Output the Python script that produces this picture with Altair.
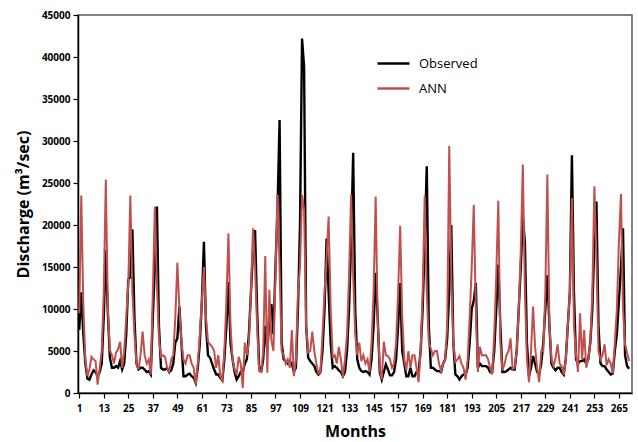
import altair as alt
import pandas as pd

months = list(range(1, 271))

observed = [
    7500, 12000, 7000, 3500, 1700, 1600, 2200, 2700, 2500, 2000, 2500, 3500,
    9000, 17000, 9500, 4200, 3000, 3000, 3200, 3000, 3800, 2800, 3500, 7000,
    13500, 13800, 19500, 9000, 3500, 2800, 3000, 3000, 2800, 2500, 2600, 2200,
    9000, 15000, 22200, 8000, 3000, 2800, 2800, 3000, 2500, 2700, 3500, 6000,
    6500, 10300, 6000, 2000, 2000, 2200, 2300, 2000, 1800, 1200, 3000, 6000,
    11000, 18000, 8000, 4500, 4200, 3500, 2800, 2200, 2200, 1800, 1500, 4000,
    8000, 13200, 6000, 4000, 2500, 1600, 2000, 2500, 2500, 3500, 4000, 7000,
    12000, 17000, 19400, 10000, 3200, 2500, 4000, 8000, 5000, 9000, 10600, 7000,
    15000, 22000, 32500, 6000, 4000, 3800, 3500, 3800, 3500, 2500, 3000, 10000,
    20000, 42200, 38800, 8000, 4200, 3800, 3500, 3200, 2500, 2200, 2500, 5000,
    10000, 18400, 12000, 6000, 3000, 3200, 3000, 2700, 2500, 2000, 2500, 5000,
    10000, 18000, 28600, 10000, 4000, 3000, 2600, 2500, 2600, 2500, 2200, 4000,
    8000, 14300, 9000, 2500, 1600, 2500, 3400, 2800, 2100, 2100, 2500, 4000,
    8000, 13100, 5000, 3500, 2000, 2000, 3000, 2000, 2000, 2500, 2500, 5000,
    10000, 18000, 27000, 8000, 3000, 3000, 2800, 2600, 2600, 2500, 3500, 4000,
    6500, 12000, 20000, 6000, 2200, 2000, 1600, 2000, 2200, 2200, 3000, 6000,
    10000, 11000, 13100, 3000, 3500, 3200, 3200, 3200, 3000, 2500, 2500, 5000,
    10000, 15300, 8000, 2500, 2500, 2600, 2800, 3000, 2800, 2800, 5000, 10000,
    15000, 21000, 17900, 6000, 2000, 3000, 4400, 3500, 2500, 2200, 3500, 6000,
    10000, 14000, 8000, 3500, 3000, 2700, 3000, 3000, 2500, 2200, 4000, 8000,
    12000, 28300, 12000, 4000, 3500, 3800, 3800, 4000, 3500, 4000, 6000, 10000,
    18000, 22800, 8000, 3500, 3200, 3200, 2800, 2500, 2200, 2300, 5000, 7000,
    11000, 15000, 19600, 4500, 3200, 2900,
]

ann = [
    9500, 23500, 10500, 4000, 2000, 2800, 4300, 4000, 3800, 1000, 3000, 5000,
    12000, 25400, 10000, 5100, 4500, 3500, 4800, 5200, 6100, 3000, 5000, 9000,
    13000, 23500, 12000, 7000, 3500, 2800, 4500, 7300, 4500, 3500, 4000, 2200,
    12000, 22200, 13000, 6500, 4300, 4500, 4300, 3000, 2500, 4000, 4500, 9000,
    15500, 10000, 6000, 4000, 3500, 4500, 4500, 3500, 3000, 1000, 3500, 7000,
    11000, 15000, 9000, 6100, 5800, 5500, 5000, 3000, 4500, 2000, 1500, 5000,
    11000, 19000, 8000, 4000, 2800, 2200, 4300, 3500, 600, 6000, 4500, 6000,
    12000, 19600, 15000, 8000, 2600, 2500, 5000, 16300, 2400, 12300, 6300, 5000,
    14000, 23600, 15000, 5000, 4500, 3500, 4000, 3000, 7500, 2000, 4000, 12000,
    15000, 23600, 21800, 8000, 4800, 5000, 7300, 5000, 3500, 2300, 2500, 7000,
    12000, 16000, 21000, 10000, 4300, 4500, 3500, 5500, 4000, 1900, 4000, 7000,
    14000, 23600, 14000, 7000, 4500, 6000, 3800, 4500, 3500, 4000, 2500, 6000,
    12000, 23400, 8700, 3000, 1600, 6100, 4500, 4400, 4000, 3000, 3500, 6000,
    12000, 19900, 9000, 4000, 2700, 5000, 3000, 4500, 4500, 3000, 1300, 5000,
    12000, 23500, 12000, 6000, 5300, 4500, 5000, 5000, 3500, 2600, 3500, 4000,
    8000, 29400, 14000, 6000, 3700, 4000, 4400, 3500, 3000, 1600, 4000, 9000,
    15000, 22400, 10000, 2500, 5500, 4500, 4500, 4500, 4000, 3000, 2200, 7000,
    14000, 22900, 6000, 2700, 3400, 4500, 5000, 6500, 2800, 3000, 5000, 10000,
    17000, 27200, 12000, 4000, 1300, 5000, 10300, 5500, 3000, 1300, 5000, 5000,
    12000, 26000, 8000, 4000, 3200, 4200, 5800, 3500, 3200, 2200, 4000, 8000,
    12000, 23200, 8000, 4600, 2500, 9500, 4000, 7500, 3000, 4000, 6000, 12000,
    24600, 16000, 5000, 4000, 4500, 5800, 3300, 4000, 3500, 2300, 6000, 10000,
    18000, 23700, 10000, 5800, 4800, 3800,
]

series_names = ["Observed", "ANN"]
series_colors = ["#000000", "#C0504D"]
x_ticks = list(range(1, 266, 12))
y_ticks = list(range(0, 45001, 5000))

df = pd.DataFrame({
    "Month": months + months,
    "Discharge": observed + ann,
    "Series": ["Observed"] * len(observed) + ["ANN"] * len(ann),
})

FONT = "Open Sans"

color = alt.Color(
    "Series:N",
    scale=alt.Scale(domain=series_names, range=series_colors),
    legend=alt.Legend(
        title=None, orient="none", legendX=298, legendY=31,
        symbolType="stroke", symbolSize=1024, symbolStrokeWidth=2.5,
        labelFont=FONT, labelFontSize=13, labelColor="#000000",
        labelOffset=8, rowPadding=-7, padding=0,
    ),
)

base = alt.Chart(df).encode(
    x=alt.X(
        "Month:Q",
        scale=alt.Scale(domain=[0.4, 271.4], nice=False, zero=False),
        axis=alt.Axis(
            values=x_ticks, title="Months", grid=False,
            labelFont=FONT, labelFontSize=10, labelFontWeight="bold", labelColor="#000000",
            titleFont=FONT, titleFontSize=16, titleFontWeight="bold", titleColor="#000000",
            tickSize=5, tickColor="#000000", tickWidth=1.2, domainColor="#000000", domainWidth=1.5,
            labelPadding=5, titlePadding=10, labelFlush=False, labelOverlap=False,
        ),
    ),
    y=alt.Y(
        "Discharge:Q",
        scale=alt.Scale(domain=[0, 45000], nice=False),
        axis=alt.Axis(
            values=y_ticks, format="d", title="Discharge (m³/sec)", grid=False,
            labelFont=FONT, labelFontSize=10, labelFontWeight="bold", labelColor="#000000",
            titleFont=FONT, titleFontSize=16, titleFontWeight="bold", titleColor="#000000",
            tickSize=5, tickColor="#000000", tickWidth=1.2, domainColor="#000000", domainWidth=1.5,
            labelPadding=3, titlePadding=10, labelOverlap=False,
        ),
    ),
    color=color,
)

obs_layer = base.transform_filter(alt.datum.Series == "Observed").mark_line(strokeWidth=2.4)
ann_layer = base.transform_filter(alt.datum.Series == "ANN").mark_line(strokeWidth=2)

chart = alt.layer(obs_layer, ann_layer).properties(
    width=554, height=378,
    autosize=alt.AutoSizeParams(type="none"),
    padding={"left": 78, "top": 15, "right": 6, "bottom": 49},
    background="#ffffff",
).configure_view(stroke="#595959", strokeWidth=1.5)

chart.save("out.html", embed_options={"renderer": "svg", "actions": False})
